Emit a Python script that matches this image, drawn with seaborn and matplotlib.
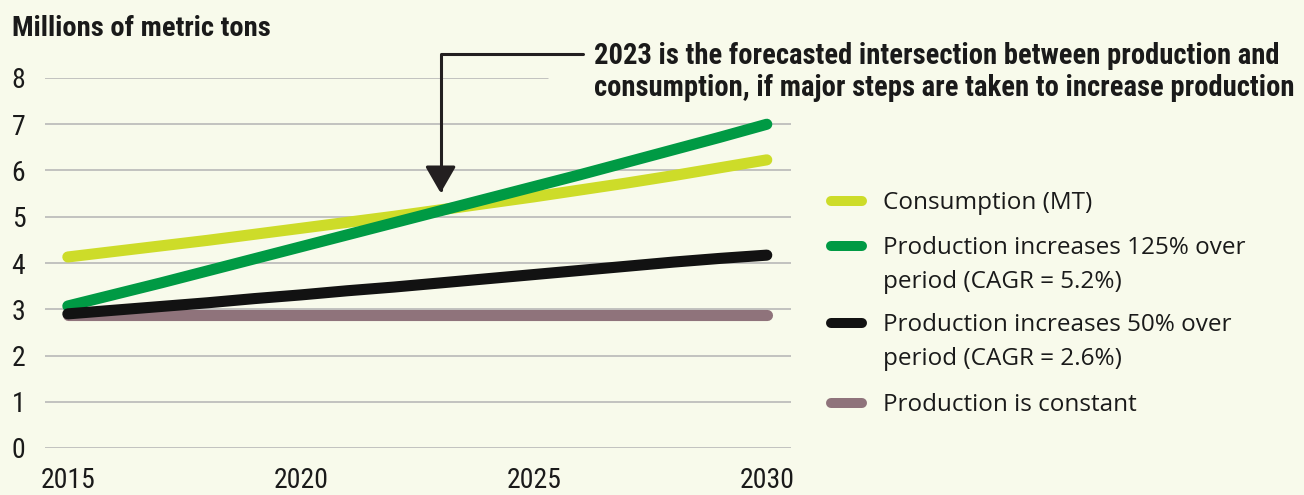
import numpy as np
import pandas as pd
import seaborn as sns
import matplotlib.pyplot as plt
from matplotlib.lines import Line2D

years = list(range(2015, 2031))
consumption = [4.13, 4.25, 4.37, 4.49, 4.62, 4.75, 4.88, 5.01, 5.15, 5.29, 5.43, 5.58, 5.73, 5.89, 6.06, 6.23]
prod_125 = [3.07, 3.32, 3.57, 3.83, 4.09, 4.35, 4.61, 4.87, 5.13, 5.39, 5.65, 5.91, 6.18, 6.45, 6.72, 7.00]
prod_50 = [2.90, 2.98, 3.06, 3.14, 3.23, 3.31, 3.40, 3.48, 3.57, 3.66, 3.75, 3.84, 3.93, 4.02, 4.10, 4.17]
prod_const = [2.88] * 16

series_names = ["Consumption (MT)",
                "Production increases 125% over\nperiod (CAGR = 5.2%)",
                "Production increases 50% over\nperiod (CAGR = 2.6%)",
                "Production is constant"]
series_colors = ["#cddc29", "#009a44", "#121212", "#8f737b"]
yticks = [0, 1, 2, 3, 4, 5, 6, 7, 8]
xticks = [2015, 2020, 2025, 2030]
note = "2023 is the forecasted intersection between production and\nconsumption, if major steps are taken to increase production"
note_year = 2023

bg = "#f8faeb"
sns.set_style("white")
plt.rcParams['font.family'] = ['Roboto Condensed', 'Roboto', 'DejaVu Sans']

W, H = 1304, 495
fig = plt.figure(figsize=(W / 100, H / 100), dpi=100, facecolor=bg)
ax = fig.add_axes([45 / W, (H - 448) / H, 746 / W, 370 / H])
ax.set_facecolor(bg)

df = pd.DataFrame({"year": years * 4,
                   "value": consumption + prod_125 + prod_const + prod_50,
                   "series": [series_names[0]] * 16 + [series_names[1]] * 16
                             + [series_names[3]] * 16 + [series_names[2]] * 16})

# gridlines (top one stops short of the annotation)
for v in yticks:
    xmax = (548 - 45) / 746 if v == 8 else 1
    ax.axhline(v, xmin=0, xmax=xmax, color="#b3b3b3", lw=1.1, zorder=0)

order = [0, 1, 3, 2]
for i in order:
    sub = df[df["series"] == series_names[i]]
    sns.lineplot(data=sub, x="year", y="value", color=series_colors[i], lw=8,
                 solid_capstyle="round", ax=ax, legend=False)

ax.set_xlim(2014.51, 2030.52)
ax.set_ylim(0, 8)
ax.set_xticks(xticks)
ax.set_yticks(yticks)
ax.set_xlabel("")
ax.set_ylabel("")
ax.tick_params(axis="both", length=0, labelsize=20, colors="#1a1a1a")
ax.tick_params(axis="y", pad=24)
ax.tick_params(axis="x", pad=14)
for lab in ax.get_yticklabels():
    lab.set_ha("left")
sns.despine(ax=ax, left=True, bottom=True, top=True, right=True)

fig.text(12 / W, 1 - 28 / H, "Millions of metric tons", fontsize=20.5, fontweight="bold",
         color="#1a1a1a", ha="left", va="center")

# annotation arrow + text
tip_y = (448 - 193) / 46.25
ax.annotate("", xy=(note_year, tip_y), xycoords="data",
            xytext=(583 / W, 1 - 54 / H), textcoords="figure fraction",
            arrowprops=dict(arrowstyle="-|>,head_length=1.65,head_width=0.95",
                            connectionstyle="angle,angleA=0,angleB=90,rad=0",
                            color="#231f20", lw=2.2, shrinkA=0, shrinkB=0,
                            mutation_scale=10),
            annotation_clip=False)
fig.text(594 / W, 1 - 72 / H, note, fontsize=20.6, fontweight="bold", color="#1a1a1a",
         ha="left", va="center", linespacing=1.14)

# legend drawn by hand so the swatch sits on the first text line
leg_rows = [201, 246, 323, 403]
for name, col, yy in zip(series_names, series_colors, leg_rows):
    fig.add_artist(Line2D([831 / W, 862 / W], [1 - yy / H, 1 - yy / H], color=col, lw=7.2,
                          solid_capstyle="round", transform=fig.transFigure))
    fig.text(883 / W, 1 - (yy - 10) / H, name, fontsize=17.5, color="#1a1a1a",
             family=["Open Sans", "DejaVu Sans"], ha="left", va="top", linespacing=1.55)

fig.savefig("out.png", dpi=100, facecolor=bg)
